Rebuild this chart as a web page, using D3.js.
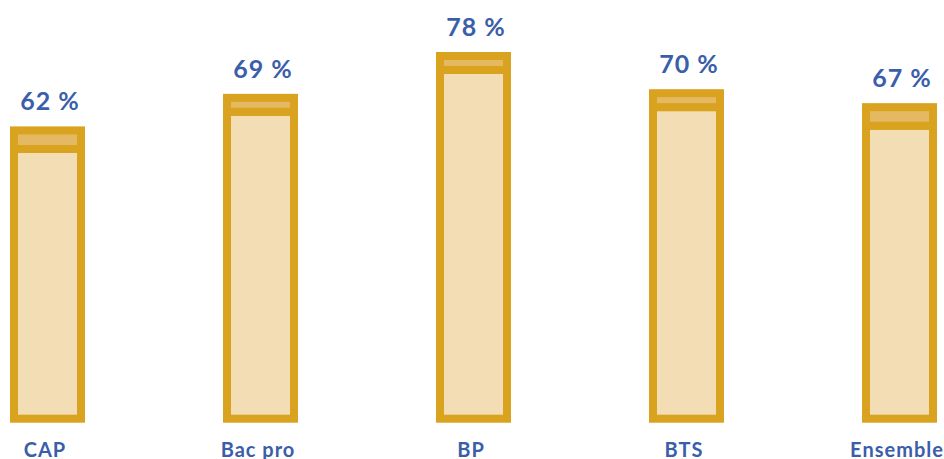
<!DOCTYPE html>
<html>
<head>
<meta charset="utf-8">
<script src="https://cdn.jsdelivr.net/npm/d3@7"></script>
<style>
  body { margin: 0; background: #fff; }
  svg { display: block; }
</style>
</head>
<body>
<div id="chart"></div>
<script>
const canvWidth = 944, canvHeight = 459;

// data
const categories = ["CAP", "Bac pro", "BP", "BTS", "Ensemble"];
const mainValues = [58, 66, 75, 67, 63];
const topValues = [4, 3, 3, 3, 4];
const totalLabels = ["62 %", "69 %", "78 %", "70 %", "67 %"];

const svg = d3.select("#chart").append("svg")
    .attr("width", canvWidth)
    .attr("height", canvHeight);

const x = d3.scalePoint()
    .domain(categories)
    .range([47.5, 899.5]);

const y = d3.scaleLinear()
    .domain([0, 100])
    .range([418.7, 418.7 - 465]);

const barW = 67;
const strokeCol = "#d9a21f";

const rows = categories.map(function (c, i) {
    return {cat: c, main: mainValues[i], top: topValues[i], label: totalLabels[i]};
});

const g = svg.selectAll(".bar")
    .data(rows)
    .enter().append("g")
    .attr("class", "bar");

// lower segment
g.append("rect")
    .attr("x", d => x(d.cat) - barW / 2)
    .attr("y", d => y(d.main))
    .attr("width", barW)
    .attr("height", d => y(0) - y(d.main))
    .style("fill", "#f3ddb4")
    .style("stroke", strokeCol)
    .style("stroke-width", 8);

// upper segment
g.append("rect")
    .attr("x", d => x(d.cat) - barW / 2)
    .attr("y", d => y(d.main + d.top))
    .attr("width", barW)
    .attr("height", d => y(d.main) - y(d.main + d.top))
    .style("fill", "#e4b962")
    .style("stroke", strokeCol)
    .style("stroke-width", 8);

// value labels
g.append("text")
    .attr("x", d => x(d.cat) + 2.5)
    .attr("y", d => y(d.main + d.top) - 20)
    .attr("text-anchor", "middle")
    .style("font-family", "Lato, 'Open Sans', sans-serif")
    .style("font-weight", "bold")
    .style("font-size", "25px")
    .style("letter-spacing", "1px")
    .style("fill", "#3a5ea9")
    .text(d => d.label);

// category labels
g.append("text")
    .attr("x", d => x(d.cat) - 2.5)
    .attr("y", 456.5)
    .attr("text-anchor", "middle")
    .style("font-family", "Lato, 'Open Sans', sans-serif")
    .style("font-weight", "bold")
    .style("font-size", "20px")
    .style("letter-spacing", "1px")
    .style("fill", "#3a5ea9")
    .text(d => d.cat);
</script>
</body>
</html>
